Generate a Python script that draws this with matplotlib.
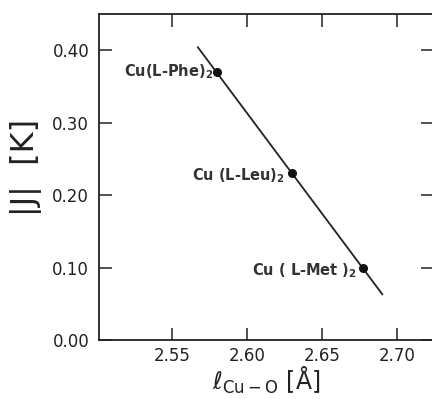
import numpy as np
import matplotlib
matplotlib.use('Agg')
import matplotlib.pyplot as plt

# ------------------------------
# Data
# ------------------------------
compounds = ['Cu(L-Phe)$_2$', 'Cu (L-Leu)$_2$', 'Cu ( L-Met )$_2$']
bond_length = [2.580, 2.630, 2.677]   # l_Cu-O [A]
J_value = [0.370, 0.230, 0.099]       # |J| [K]

fit_x = [2.567, 2.690]
fit_y = [0.404, 0.063]

x_ticks = [2.55, 2.60, 2.65, 2.70]
y_ticks = [0.0, 0.1, 0.2, 0.3, 0.4]

plt.rcParams['font.family'] = 'DejaVu Sans'
plt.rcParams['mathtext.default'] = 'regular'

fig = plt.figure(figsize=(4.32, 3.99), dpi=100)
ax = fig.add_axes([0.229, 0.148, 0.774, 0.817])

ax.plot(fit_x, fit_y, color='#222222', lw=1.3)
ax.plot(bond_length, J_value, 'o', color='#111111', ms=5.5)

offsets = [(-3, 0), (-5, -2), (-4, -2)]
for name, x, y, off in zip(compounds, bond_length, J_value, offsets):
    ax.annotate(name, (x, y), xytext=off, textcoords='offset points',
                ha='right', va='center', fontsize=10.5, fontweight='semibold',
                color='#333333')

ax.set_xlim(2.501, 2.724)
ax.set_ylim(0, 0.45)
ax.set_xticks(x_ticks)
ax.set_yticks(y_ticks)
ax.set_xticklabels(['%.2f' % t for t in x_ticks])
ax.set_yticklabels(['%.2f' % t for t in y_ticks])
ax.tick_params(direction='in', length=9, width=1.1, labelsize=12,
               top=True, right=True, colors='#222222', pad=5)
ax.tick_params(axis='y', pad=7)
for s in ax.spines.values():
    s.set_linewidth(1.3)
    s.set_color('#222222')

ax.set_xlabel(r'$\ell_{Cu-O}$ [Å]', fontsize=17, labelpad=0, color='#222222')
ax.set_ylabel('|J|  [K]', fontsize=23, color='#222222')
ax.yaxis.set_label_coords(-0.17, 0.53)

fig.savefig('out.png', dpi=100)
